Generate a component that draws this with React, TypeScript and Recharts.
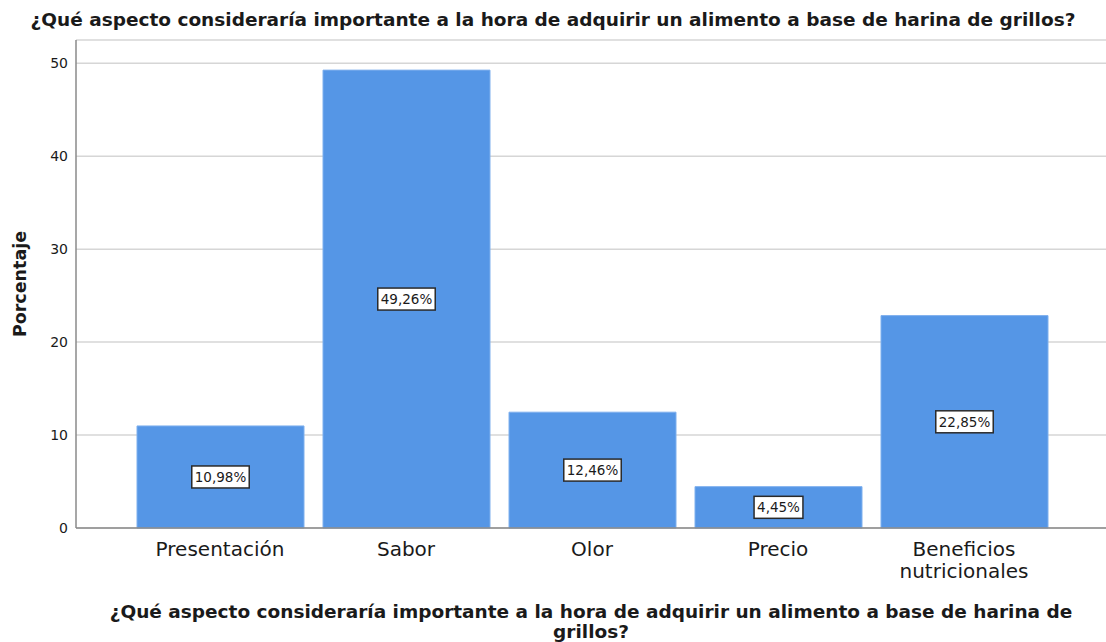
import React from "react";
import {
  BarChart,
  Bar,
  XAxis,
  YAxis,
  CartesianGrid,
  LabelList,
} from "recharts";

const categories = [
  "Presentación",
  "Sabor",
  "Olor",
  "Precio",
  "Beneficios nutricionales",
];
const percentages = [10.98, 49.26, 12.46, 4.45, 22.85];
const yTicks = [0, 10, 20, 30, 40, 50];

const question =
  "¿Qué aspecto consideraría importante a la hora de adquirir un alimento a base de harina de grillos?";
const axisTitleLines = [
  "¿Qué aspecto consideraría importante a la hora de adquirir un alimento a base de harina de",
  "grillos?",
];

const data = categories.map((name, i) => ({ name, value: percentages[i] }));

const FONT = "'DejaVu Sans', sans-serif";
const BAR_COLOR = "#5596e6";

// rough DejaVu Sans advance widths, good enough to size the label boxes
const textWidth = (s: string, size: number) =>
  s.split("").reduce((w, c) => {
    if (c === ",") return w + 0.318;
    if (c === "%") return w + 0.95;
    return w + 0.636;
  }, 0) * size;

const fmt = (v: number) => v.toFixed(2).replace(".", ",") + "%";

const CategoryTick = (props: any) => {
  const { x, y, payload } = props;
  const label: string = payload.value;
  const lines = label.length > 14 ? label.split(" ") : [label];
  return (
    <text
      x={x}
      y={y}
      textAnchor="middle"
      fontFamily={FONT}
      fontSize={20}
      fill="#1a1a1a"
    >
      {lines.map((l, i) => (
        <tspan key={i} x={x} dy={i === 0 ? 28 : 22}>
          {l}
        </tspan>
      ))}
    </text>
  );
};

const ValueBox = (props: any) => {
  const { x, y, width, height, value } = props;
  const cx = x + width / 2;
  const cy = y + height / 2;
  const txt = fmt(value);
  const w = textWidth(txt, 13.5) + 6;
  const h = 22;
  return (
    <g>
      <rect
        x={cx - w / 2}
        y={cy - h / 2}
        width={w}
        height={h}
        fill="#ffffff"
        stroke="#2a2a2a"
        strokeWidth={1.5}
      />
      <text
        x={cx}
        y={cy + 5}
        textAnchor="middle"
        fontFamily={FONT}
        fontSize={13.5}
        fill="#1a1a1a"
      >
        {txt}
      </text>
    </g>
  );
};

const XTitle = (props: any) => {
  const { x, y, width } = props.viewBox;
  const cx = x + width / 2;
  return (
    <text
      textAnchor="middle"
      fontFamily={FONT}
      fontSize={18.5}
      fontWeight="bold"
      fill="#1a1a1a"
    >
      {axisTitleLines.map((l, i) => (
        <tspan key={i} x={cx} y={y + 90 + i * 20}>
          {l}
        </tspan>
      ))}
    </text>
  );
};

const YTitle = (props: any) => {
  const { y, height } = props.viewBox;
  const cy = y + height / 2;
  return (
    <text
      x={26}
      y={cy}
      transform={`rotate(-90 26 ${cy})`}
      textAnchor="middle"
      fontFamily={FONT}
      fontSize={17.5}
      fontWeight="bold"
      fill="#1a1a1a"
    >
      Porcentaje
    </text>
  );
};

export default function App() {
  return (
    <div
      style={{
        position: "absolute",
        top: 0,
        left: 0,
        width: 1106,
        height: 642,
        background: "#ffffff",
        overflow: "hidden",
      }}
    >
      <div
        style={{
          position: "absolute",
          top: 9,
          left: 0,
          width: 1106,
          textAlign: "center",
          fontFamily: FONT,
          fontSize: 18.5,
          fontWeight: "bold",
          color: "#1a1a1a",
          whiteSpace: "nowrap",
        }}
      >
        {question}
      </div>
      <BarChart
        width={1106}
        height={642}
        data={data}
        margin={{ top: 40, right: 0, left: 0, bottom: 0 }}
        barSize={167}
      >
        <CartesianGrid vertical={false} stroke="#d6d6d6" strokeWidth={1.5} />
        <XAxis
          dataKey="name"
          height={114}
          padding={{ left: 51, right: 49 }}
          axisLine={{ stroke: "#8a8a8a", strokeWidth: 1.5 }}
          tickLine={false}
          tickSize={0}
          tickMargin={0}
          interval={0}
          tick={<CategoryTick />}
          label={<XTitle />}
        />
        <YAxis
          width={76}
          domain={[0, 52.5]}
          ticks={yTicks}
          axisLine={{ stroke: "#8a8a8a", strokeWidth: 1.5 }}
          tickLine={false}
          tickSize={0}
          tickMargin={8}
          tick={{ fontFamily: FONT, fontSize: 14, fill: "#1a1a1a" }}
          label={<YTitle />}
        />
        <Bar
          dataKey="value"
          fill={BAR_COLOR}
          stroke="#7fb0ee"
          strokeWidth={1}
          isAnimationActive={false}
        >
          <LabelList dataKey="value" content={<ValueBox />} />
        </Bar>
      </BarChart>
    </div>
  );
}
